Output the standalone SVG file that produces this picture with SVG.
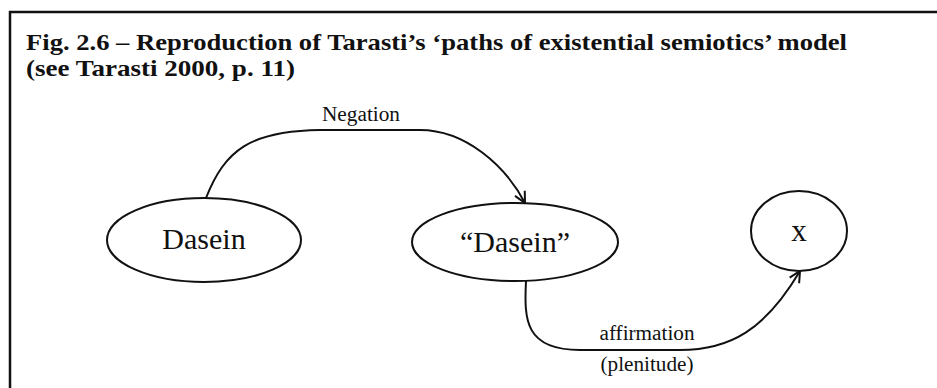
<svg xmlns="http://www.w3.org/2000/svg" width="937" height="388" viewBox="0 0 937 388">
<defs>
<marker id="arr" markerUnits="userSpaceOnUse" markerWidth="14" markerHeight="14" refX="0" refY="0" viewBox="-12 -7 14 14" orient="auto">
<path d="M-11,-5.5 L0,0 L-11,5.5" fill="none" stroke="#111" stroke-width="2"/>
</marker>
</defs>
<style>
.frame{fill:none;stroke:#111;stroke-width:2.5}
.title{font-family:"Liberation Serif","Times New Roman",serif;font-weight:bold;font-size:23px;fill:#111}
.node{fill:#fff;stroke:#111;stroke-width:2}
.ntext{font-family:"Liberation Serif","Times New Roman",serif;font-size:30px;fill:#111;text-anchor:middle}
.lbl{font-family:"Liberation Serif","Times New Roman",serif;font-size:20px;fill:#111;text-anchor:middle}
.edge{fill:none;stroke:#111;stroke-width:2;marker-end:url(#arr)}
</style>
<rect width="937" height="388" fill="#fff"/>
<path class="frame" d="M10,400 L10,12 L945,12"/>
<text class="title" x="26" y="50" textLength="821" lengthAdjust="spacingAndGlyphs">Fig. 2.6 – Reproduction of Tarasti’s ‘paths of existential semiotics’ model</text>
<text class="title" x="26" y="76" textLength="269" lengthAdjust="spacingAndGlyphs">(see Tarasti 2000, p. 11)</text>
<g id="connectors">
<path class="edge" d="M206,198 C225,150 250,131 320,130 L420,130 C465,130 505,165 525,203"/>
<text class="lbl" x="361" y="121" textLength="78" lengthAdjust="spacingAndGlyphs">Negation</text>
<path class="edge" d="M526,281 C524,320 525,350 580,350 L680,350 C730,350 765,330 800,271"/>
<text class="lbl" x="647" y="340" textLength="95" lengthAdjust="spacingAndGlyphs">affirmation</text>
<text class="lbl" x="647" y="371" textLength="93" lengthAdjust="spacingAndGlyphs">(plenitude)</text>
</g>
<g id="dasein">
<ellipse class="node" cx="204" cy="240" rx="97" ry="42"/>
<text class="ntext" x="204" y="249">Dasein</text>
</g>
<g id="dasein-quoted">
<ellipse class="node" cx="515" cy="242" rx="103" ry="39"/>
<text class="ntext" x="515" y="252">“Dasein”</text>
</g>
<g id="x">
<ellipse class="node" cx="799" cy="231" rx="48" ry="40"/>
<text class="ntext" x="799" y="241" style="font-size:31px">x</text>
</g>
</svg>
